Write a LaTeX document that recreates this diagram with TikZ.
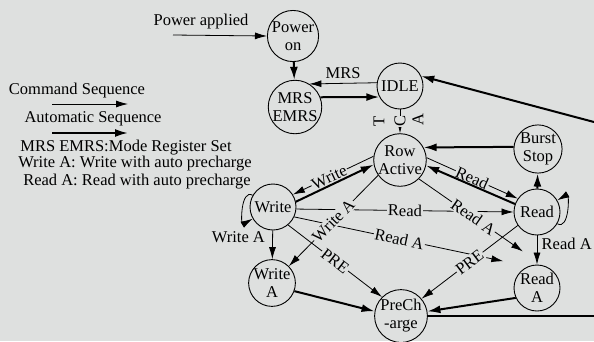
\documentclass[tikz,border=0pt]{standalone}
\usepackage{fontspec}
\setmainfont{Liberation Serif}
\usetikzlibrary{arrows.meta}
\definecolor{paper}{RGB}{222,224,223}
\tikzset{
	state_node/.style = {
		circle,
		draw=black,
		line width=0.9pt,
		align=center,
		inner sep=0pt,
		minimum size=46pt
	},
	edge_cmd/.style = {
		-{Latex[length=12pt,width=7pt]},
		line width=0.8pt
	},
	edge_auto/.style = {
		-{Latex[length=13pt,width=8pt]},
		line width=2pt
	},
	edge_label/.style = {
		sloped,
		fill=paper,
		inner sep=1pt
	},
	act_letter/.style = {
		rotate=90,
		inner sep=0pt
	}
}

\begin{document}
\begin{tikzpicture}[x=1pt,y=-1pt,font=\fontsize{16.5}{18}\selectfont]
\fill[paper] (0,0) rectangle (594,341);
\useasboundingbox (0,0) rectangle (594,341);

\node [state_node] (pwr) at (293,36) {Power\\on};
\node [state_node] (mrs) at (295,107) {MRS\\EMRS};
\node [state_node] (idle) at (400,86) {IDLE};
\node [state_node] (row) at (400,160) {Row\\Active};
\node [state_node] (burst) at (538,149) {Burst\\Stop};
\node [state_node] (write) at (273,207) {Write};
\node [state_node] (read) at (537,212) {Read};
\node [state_node] (writea) at (272,283) {Write\\A};
\node [state_node] (reada) at (537,288) {Read\\A};
\node [state_node] (pre) at (401,316) {PreCh\\-arge};

\node (applied) at (201,22) {Power applied};
\coordinate (applied_a) at (173,35);
\node (lg_cmd) at (77,91) {Command Sequence};
\coordinate (lg_cmd_a) at (52,104);
\coordinate (lg_cmd_b) at (128,104);
\node (lg_auto) at (93,119) {Automatic Sequence};
\coordinate (lg_auto_a) at (52,133);
\coordinate (lg_auto_b) at (128,133);
\node (lg_mrs) at (126,148) {MRS EMRS:Mode Register Set};
\node (lg_wra) at (135,164) {Write A: Write with auto precharge};
\node (lg_rda) at (137,182) {Read A: Read with auto precharge};
\coordinate (idle_in) at (594,122);
\coordinate (pre_out) at (594,316);

\draw [edge_cmd] (lg_cmd_a) -- (lg_cmd_b);
\draw [edge_auto] (lg_auto_a) -- (lg_auto_b);
\draw [edge_cmd] (applied_a) -- (pwr.180);
\draw [edge_auto] (pwr) -- (mrs);
\draw [edge_cmd] (idle.172) -- node[above=1pt] {MRS} (mrs.58);
\draw [edge_auto] (mrs.21) -- (idle.208);
\draw [edge_cmd] (idle) -- node[act_letter, fill=paper] {C} (row);
\node [act_letter] (act_t) at (379,121) {T};
\node [act_letter] (act_a) at (418,120) {A};
\draw [edge_auto] (burst.175) -- (row.28);
\draw [edge_auto] (read) -- (burst);
\draw [edge_cmd] (row.5) -- node[edge_label] {Read} (read.145);
\draw [edge_auto] (read.160) -- (row.-12);
\draw [edge_cmd] (row.172) -- node[edge_label, pos=0.55] {Write} (write.32);
\draw [edge_auto] (write.13) -- (row.190);
\draw [edge_cmd] (write.-5) -- node[edge_label] {Read} (read.west);
\draw [edge_cmd, shorten >=25pt] (write.-25) -- node[edge_label, pos=0.45] {Read A} (reada.113);
\draw [edge_cmd, shorten >=24pt] (row.-45) -- node[edge_label, pos=0.44] {Read A} (reada.76);
\draw [edge_cmd] (read.215) -- node[edge_label] {PRE} (pre.40);
\draw [edge_cmd] (row.215) -- node[edge_label, pos=0.5] {Write A} (writea.45);
\draw [edge_cmd] (write.-50) -- node[edge_label] {PRE} (pre.135);
\draw [edge_cmd] (read) -- node[right=1pt, pos=0.3] {Read A} (reada);
\draw [edge_cmd] (write) -- node[left=4pt, pos=0.22] {Write A} (writea);
\draw [edge_auto] (writea.-20) -- (pre.170);
\draw [edge_auto] (reada.205) -- (pre.10);
\draw [line width=2pt] (pre.east) -- (pre_out);
\draw [edge_auto] (idle_in) -- (idle.25);
\path [edge_cmd] (write) edge[out=150, in=210, loop, min distance=14pt] (write);
\path [edge_cmd] (read) edge[out=-30, in=30, loop, min distance=14pt] (read);
\end{tikzpicture}
\end{document}
